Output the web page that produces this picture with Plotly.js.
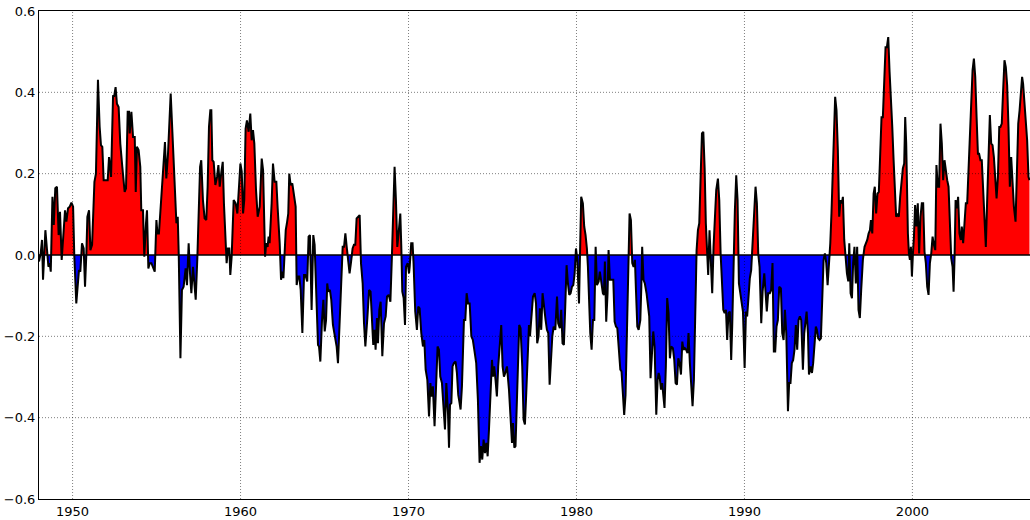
<!DOCTYPE html>
<html>
<head>
<meta charset="utf-8">
<script src="https://cdn.plot.ly/plotly-3.0.1.min.js"></script>
<style>html,body{margin:0;padding:0;background:#fff;}#chart{width:1030px;height:520px;}</style>
</head>
<body>
<div id="chart"></div>
<script>
// Decimal year of each reading
const years = [
1948.00,1948.10,1948.18,1948.24,1948.38,1948.48,1948.56,1948.64,1948.70,1948.80,1948.88,1948.97,1949.07,1949.17,1949.25,1949.35,1949.55,1949.63,1949.73,1949.83,1949.93,
1950.03,1950.10,1950.22,1950.30,1950.38,1950.46,1950.56,1950.66,1950.74,1950.82,1950.88,1950.98,1951.06,1951.16,1951.24,1951.30,1951.39,1951.51,1951.61,1951.69,1951.77,1951.85,
1952.01,1952.09,1952.17,1952.29,1952.41,1952.47,1952.56,1952.64,1952.74,1952.84,1952.96,1953.10,1953.18,1953.28,1953.36,1953.40,1953.50,1953.60,1953.70,1953.76,1953.83,1953.93,
1954.03,1954.09,1954.19,1954.27,1954.37,1954.43,1954.51,1954.59,1954.69,1954.79,1954.89,1954.99,1955.05,1955.14,1955.24,1955.34,
1955.42,1955.50,1955.58,1955.68,1955.84,1955.94,1956.06,1956.18,1956.26,1956.32,1956.42,1956.51,1956.61,1956.73,1956.81,1956.91,1956.99,1957.07,1957.17,1957.25,1957.33,1957.43,
1957.51,1957.59,1957.66,1957.76,1957.86,1957.96,1958.04,1958.12,1958.20,1958.26,1958.32,1958.40,1958.50,1958.60,1958.68,1958.76,1958.86,1958.94,1959.01,1959.11,1959.17,1959.25,
1959.33,1959.39,1959.47,1959.59,1959.71,1959.81,1959.91,1959.99,1960.07,1960.15,1960.22,1960.30,1960.38,1960.48,1960.58,1960.66,1960.74,1960.82,1960.92,1961.02,1961.14,1961.26,
1961.34,1961.46,1961.53,1961.61,1961.67,1961.73,1961.85,1961.93,1962.03,1962.13,1962.21,1962.33,1962.41,1962.49,1962.55,1962.69,1962.76,1962.84,
1962.90,1962.98,1963.08,1963.18,1963.28,1963.34,1963.42,1963.50,1963.58,1963.68,1963.78,1963.86,1963.97,1964.05,1964.13,1964.23,1964.33,1964.41,1964.47,1964.55,1964.61,1964.67,
1964.75,1964.85,1964.93,1965.01,1965.09,1965.16,1965.22,1965.32,1965.40,1965.50,1965.60,1965.72,1965.80,1965.90,1966.00,1966.08,1966.16,1966.24,1966.32,1966.42,1966.49,1966.57,
1966.67,1966.75,1966.83,1966.91,1967.01,1967.09,1967.17,1967.27,1967.35,1967.43,1967.55,1967.65,1967.74,1967.82,1967.90,1967.98,1968.04,1968.12,1968.18,1968.26,1968.34,1968.44,
1968.54,1968.64,1968.72,1968.82,1968.92,1969.01,1969.09,1969.17,1969.25,1969.33,1969.41,1969.51,1969.57,1969.63,1969.71,1969.79,1969.85,1969.95,1970.03,
1970.07,1970.16,1970.24,1970.30,1970.40,1970.50,1970.58,1970.66,1970.76,1970.86,1970.94,1971.02,1971.12,1971.22,1971.30,1971.37,1971.45,1971.55,1971.65,1971.73,1971.81,1971.89,
1971.99,1972.09,1972.17,1972.25,1972.35,1972.41,1972.47,1972.55,1972.62,1972.70,1972.80,1972.88,1972.96,1973.04,1973.10,1973.18,1973.24,1973.30,1973.38,1973.46,1973.54,1973.64,
1973.74,1973.83,1973.93,1974.03,1974.13,1974.23,1974.31,1974.39,1974.47,1974.55,1974.63,1974.71,1974.79,1974.89,1974.97,1975.03,1975.10,1975.18,1975.26,1975.34,1975.42,1975.52,
1975.60,1975.68,1975.76,1975.86,1975.98,1976.08,1976.16,1976.22,1976.30,1976.37,1976.45,1976.53,1976.59,1976.67,1976.77,1976.85,1976.93,1977.01,1977.09,1977.17,1977.23,1977.31,
1977.41,1977.51,
1977.59,1977.66,1977.74,1977.82,1977.90,1977.98,1978.06,1978.16,1978.24,1978.32,1978.40,1978.48,1978.56,1978.64,1978.74,1978.84,1978.91,1979.01,1979.09,1979.17,1979.25,1979.33,
1979.41,1979.49,1979.57,1979.65,1979.73,1979.81,1979.89,1979.97,1980.05,1980.15,1980.20,1980.28,1980.38,1980.46,1980.54,1980.62,1980.68,1980.76,1980.82,1980.90,1980.98,1981.06,
1981.14,1981.22,1981.32,1981.39,1981.47,1981.57,1981.63,1981.69,1981.77,1981.85,1981.91,1981.99,1982.11,1982.19,1982.27,1982.35,1982.43,1982.51,1982.61,1982.68,1982.76,1982.84,
1982.92,1983.00,1983.08,1983.16,1983.24,1983.32,1983.40,1983.48,1983.54,1983.62,1983.70,1983.80,1983.86,1983.91,1983.99,1984.07,1984.17,1984.27,1984.33,1984.41,1984.49,1984.57,
1984.65,1984.75,1984.83,1984.89,
1984.95,1985.03,1985.10,1985.16,1985.24,1985.32,1985.40,1985.48,1985.56,1985.64,1985.74,1985.82,1985.90,1985.98,1986.06,1986.14,1986.22,1986.30,1986.37,1986.45,1986.53,1986.61,
1986.67,1986.75,1986.83,1986.91,1986.99,1987.07,1987.15,1987.23,1987.31,1987.39,1987.47,1987.55,1987.63,1987.70,1987.78,1987.84,1987.92,1988.00,1988.08,1988.16,1988.24,1988.32,
1988.42,1988.50,1988.58,1988.66,1988.74,1988.82,1988.90,1988.97,1989.05,1989.13,1989.21,1989.27,1989.35,1989.43,1989.51,1989.59,1989.67,1989.75,1989.83,1989.91,1990.01,1990.09,
1990.16,1990.24,1990.32,1990.40,1990.48,1990.58,1990.66,1990.74,1990.82,1990.90,1991.00,1991.08,1991.18,1991.26,1991.33,1991.41,1991.51,1991.59,1991.67,1991.75,1991.83,1991.91,
1991.99,1992.07,1992.17,1992.25,1992.33,1992.41,1992.49,
1992.59,1992.66,1992.74,1992.82,1992.90,1992.98,1993.06,1993.14,1993.22,1993.30,1993.38,1993.48,1993.56,1993.64,1993.70,1993.78,1993.84,1993.94,1994.02,1994.09,1994.17,1994.25,
1994.31,1994.39,1994.47,1994.55,1994.63,1994.71,1994.79,1994.87,1994.95,1995.03,1995.11,1995.18,1995.26,1995.34,1995.40,1995.48,1995.56,1995.64,1995.72,1995.80,1995.86,1995.94,
1996.02,1996.10,1996.18,1996.24,1996.32,1996.40,1996.47,1996.55,1996.63,1996.71,1996.79,1996.87,1996.95,1997.05,1997.15,1997.23,1997.31,1997.39,1997.47,1997.53,1997.61,1997.69,
1997.76,1997.84,1997.92,1998.00,1998.08,1998.16,1998.24,1998.32,1998.40,1998.48,1998.56,1998.64,1998.72,1998.80,1998.88,1998.95,1999.03,1999.11,1999.19,1999.27,1999.35,1999.43,
1999.51,1999.57,1999.63,1999.67,1999.73,1999.79,1999.85,1999.91,1999.97,2000.03,2000.09,2000.16,2000.24,2000.32,2000.40,2000.48,2000.56,2000.64,2000.72,2000.80,2000.88,2000.96,
2001.04,2001.12,2001.20,2001.28,2001.36,2001.43,2001.51,2001.59,2001.67,2001.75,2001.83,2001.91,2001.99,2002.07,2002.15,2002.23,2002.31,2002.39,2002.45,2002.51,2002.57,2002.65,
2002.72,2002.80,2002.88,2002.94,2003.02,2003.10,2003.18,2003.26,2003.34,2003.42,2003.50,2003.58,2003.66,2003.74,2003.82,2003.90,2003.97,2004.05,2004.13,2004.21,2004.29,2004.37,
2004.45,2004.53,2004.61,2004.69,2004.77,2004.85,2004.93,2005.01,2005.09,2005.17,2005.24,2005.32,2005.40,2005.48,2005.56,2005.64,2005.72,2005.80,2005.88,2005.96,2006.04,2006.14,
2006.22,2006.30,2006.38,2006.45,2006.53,2006.59,2006.67,2006.75,2006.83,2006.91,2006.97
];
// Index value at each reading
const values = [
-0.016,0.004,0.037,-0.061,0.061,-0.004,-0.029,-0.020,-0.041,0.143,0.074,0.164,0.168,0.049,0.106,-0.012,0.110,0.082,0.115,0.119,0.129,
0.119,0.000,-0.119,-0.078,-0.037,-0.041,0.029,0.016,-0.078,0.004,0.094,0.110,0.012,0.025,0.102,0.180,0.200,0.431,0.315,0.270,0.266,0.184,
0.184,0.184,0.241,0.192,0.393,0.389,0.413,0.372,0.364,0.274,0.217,0.155,0.164,0.352,0.352,0.299,0.352,0.290,0.290,0.155,0.266,0.258,
0.217,0.110,0.110,-0.004,0.078,0.110,-0.033,-0.020,-0.020,-0.029,-0.041,0.086,0.053,0.053,0.119,0.184,
0.209,0.278,0.188,0.249,0.397,0.299,0.168,0.078,0.094,0.000,-0.254,-0.086,-0.078,-0.033,-0.074,0.029,-0.045,-0.094,-0.029,-0.070,-0.110,-0.004,
0.110,0.217,0.233,0.135,0.090,0.086,0.168,0.315,0.356,0.356,0.233,0.229,0.172,0.192,0.221,0.168,0.205,0.229,0.127,0.004,-0.020,0.016,
0.016,-0.049,-0.004,0.135,0.127,0.102,0.168,0.225,0.205,0.102,0.135,0.311,0.331,0.303,0.348,0.282,0.307,0.274,0.160,0.094,0.119,0.237,
0.209,-0.004,0.029,0.020,0.045,0.029,0.127,0.225,0.180,0.180,0.115,0.029,-0.061,-0.041,-0.057,0.061,0.078,0.102,
0.200,0.172,0.176,0.151,0.119,-0.074,-0.053,-0.053,-0.086,-0.192,-0.049,-0.049,-0.065,0.045,0.049,-0.135,0.049,0.025,-0.045,-0.151,-0.221,-0.225,
-0.262,-0.160,-0.110,-0.188,-0.160,-0.070,-0.090,-0.086,-0.110,-0.172,-0.192,-0.225,-0.266,-0.168,-0.061,0.020,0.020,0.053,0.020,-0.029,-0.045,-0.020,
0.016,0.025,0.025,0.090,0.094,0.098,-0.020,-0.070,-0.168,-0.225,-0.155,-0.086,-0.090,-0.151,-0.221,-0.184,-0.233,-0.155,-0.217,-0.135,-0.115,-0.249,
-0.168,-0.151,-0.102,-0.098,-0.115,-0.004,0.102,0.217,0.135,0.020,0.053,0.102,0.020,-0.090,-0.106,-0.172,-0.029,-0.020,-0.045,
-0.029,0.029,0.029,-0.020,-0.139,-0.184,-0.127,-0.131,-0.192,-0.225,-0.209,-0.282,-0.307,-0.397,-0.315,-0.348,-0.323,-0.421,-0.323,-0.225,-0.233,-0.299,
-0.315,-0.380,-0.429,-0.315,-0.389,-0.474,-0.368,-0.364,-0.274,-0.266,-0.262,-0.290,-0.344,-0.364,-0.380,-0.323,-0.258,-0.160,-0.160,-0.094,-0.119,-0.119,
-0.200,-0.209,-0.237,-0.266,-0.356,-0.511,-0.470,-0.503,-0.454,-0.487,-0.462,-0.495,-0.429,-0.331,-0.258,-0.299,-0.274,-0.307,-0.348,-0.274,-0.233,-0.172,
-0.274,-0.299,-0.290,-0.274,-0.331,-0.397,-0.462,-0.413,-0.474,-0.470,-0.356,-0.225,-0.172,-0.180,-0.274,-0.405,-0.417,-0.339,-0.241,-0.172,-0.200,-0.151,
-0.102,-0.094,
-0.119,-0.217,-0.200,-0.131,-0.184,-0.094,-0.131,-0.160,-0.184,-0.192,-0.319,-0.258,-0.200,-0.176,-0.184,-0.102,-0.168,-0.180,-0.135,-0.217,-0.221,-0.127,
-0.025,-0.070,-0.098,-0.094,-0.078,-0.074,-0.045,0.016,-0.012,-0.119,-0.012,0.143,0.127,0.070,0.049,0.016,-0.029,-0.160,-0.192,-0.233,-0.160,-0.160,
0.020,-0.074,-0.065,-0.041,-0.070,-0.094,-0.098,-0.016,-0.164,-0.094,0.012,-0.061,-0.061,-0.061,-0.164,-0.176,-0.180,-0.217,-0.282,-0.286,-0.339,-0.393,
-0.344,-0.192,-0.020,0.102,0.086,-0.020,-0.029,-0.012,-0.086,-0.176,-0.184,-0.160,-0.078,0.020,-0.061,-0.070,-0.094,-0.135,-0.151,-0.303,-0.225,-0.188,
-0.225,-0.393,-0.307,-0.290,
-0.299,-0.331,-0.315,-0.335,-0.376,-0.274,-0.106,-0.143,-0.254,-0.225,-0.229,-0.258,-0.315,-0.319,-0.254,-0.266,-0.294,-0.213,-0.233,-0.229,-0.233,-0.241,
-0.192,-0.266,-0.339,-0.372,-0.307,-0.127,0.012,0.061,0.078,0.192,0.299,0.303,0.213,0.078,0.004,-0.049,0.061,-0.037,-0.094,0.020,0.110,0.160,
0.188,0.135,0.004,-0.070,-0.135,-0.143,-0.135,-0.209,-0.143,-0.139,-0.258,-0.176,-0.004,0.110,0.196,0.135,-0.070,-0.094,-0.127,-0.139,-0.278,-0.139,
-0.151,-0.094,-0.057,-0.037,0.020,0.102,0.168,0.127,0.004,-0.029,-0.168,-0.090,-0.045,-0.094,-0.139,-0.094,-0.094,-0.086,-0.020,-0.237,-0.237,-0.176,
-0.160,-0.078,-0.082,-0.192,-0.209,-0.135,-0.192,
-0.384,-0.315,-0.315,-0.266,-0.258,-0.233,-0.172,-0.233,-0.160,-0.151,-0.160,-0.282,-0.192,-0.168,-0.139,-0.192,-0.294,-0.274,-0.290,-0.266,-0.225,-0.176,
-0.184,-0.205,-0.209,-0.205,-0.110,-0.012,0.004,-0.020,-0.074,-0.029,0.029,0.102,0.233,0.311,0.389,0.356,0.258,0.094,0.135,0.127,0.143,0.037,
-0.012,-0.045,-0.065,0.029,-0.094,-0.106,-0.020,0.020,-0.070,0.020,-0.135,-0.155,-0.086,-0.012,0.020,0.029,0.037,0.053,0.061,0.086,0.053,0.151,
0.168,0.102,0.151,0.155,0.282,0.339,0.339,0.421,0.511,0.511,0.536,0.450,0.397,0.315,0.233,0.168,0.094,0.102,0.094,0.143,0.188,0.213,
0.225,0.339,0.274,0.135,0.053,0.004,-0.012,0.020,-0.053,0.004,0.045,0.123,0.070,0.127,0.004,0.094,0.127,0.127,0.008,-0.020,-0.078,-0.098,
-0.020,0.004,0.045,0.025,0.012,0.221,0.168,0.168,0.323,0.274,0.184,0.233,0.200,0.184,0.168,0.053,-0.008,-0.029,-0.090,-0.004,0.135,0.115,
0.143,0.053,0.037,0.070,0.029,0.078,0.127,0.127,0.200,0.299,0.380,0.454,0.483,0.438,0.339,0.249,0.249,0.233,0.233,0.168,0.094,0.020,
0.135,0.266,0.344,0.274,0.270,0.241,0.192,0.139,0.192,0.315,0.315,0.323,0.405,0.479,0.462,0.417,0.315,0.168,0.241,0.168,0.119,0.082,
0.217,0.323,0.356,0.397,0.438,0.421,0.380,0.331,0.282,0.192,0.184
];
const xTicks = [1950, 1960, 1970, 1980, 1990, 2000];
const xTickLabels = ["1950", "1960", "1970", "1980", "1990", "2000"];
const yTicks = [-0.6, -0.4, -0.2, 0.0, 0.2, 0.4, 0.6];
const yTickLabels = ["\u22120.6", "\u22120.4", "\u22120.2", "0.0", "0.2", "0.4", "0.6"];

// split into positive / negative parts with zero crossings
const px = [], py = [], nx = [], ny = [];
for (let i = 0; i < years.length; i++) {
  if (i > 0) {
    const a = values[i - 1], b = values[i];
    if ((a > 0 && b < 0) || (a < 0 && b > 0)) {
      const xc = years[i - 1] + (years[i] - years[i - 1]) * (-a) / (b - a);
      px.push(xc); py.push(0); nx.push(xc); ny.push(0);
    }
  }
  px.push(years[i]); py.push(Math.max(values[i], 0));
  nx.push(years[i]); ny.push(Math.min(values[i], 0));
}

const traces = [
  {x: px, y: py, type: 'scatter', mode: 'lines', fill: 'tozeroy', fillcolor: '#ff0000',
   line: {width: 0, color: '#ff0000'}, hoverinfo: 'skip', showlegend: false},
  {x: nx, y: ny, type: 'scatter', mode: 'lines', fill: 'tozeroy', fillcolor: '#0000ff',
   line: {width: 0, color: '#0000ff'}, hoverinfo: 'skip', showlegend: false},
  {x: years, y: values, type: 'scatter', mode: 'lines',
   line: {width: 2, color: '#000000'}, showlegend: false}
];

const shapes = [];
xTicks.forEach(v => shapes.push({type: 'line', xref: 'x', yref: 'paper', x0: v, x1: v, y0: 0, y1: 1,
  line: {color: 'rgba(0,0,0,0.5)', width: 1, dash: '1px,2px'}, layer: 'above'}));
yTicks.forEach(v => { if (v !== 0 && Math.abs(v) < 0.59) shapes.push({type: 'line', xref: 'paper', yref: 'y', x0: 0, x1: 1, y0: v, y1: v,
  line: {color: 'rgba(0,0,0,0.5)', width: 1, dash: '1px,2px'}, layer: 'above'}); });
shapes.push({type: 'line', xref: 'paper', yref: 'y', x0: 0, x1: 1, y0: 0, y1: 0,
  line: {color: '#000000', width: 1.5}, layer: 'above'});

const layout = {
  width: 1030, height: 520,
  margin: {l: 39, r: 0, t: 11, b: 21, pad: 0},
  paper_bgcolor: '#ffffff', plot_bgcolor: '#ffffff',
  font: {family: 'DejaVu Sans, sans-serif', size: 13, color: '#000000'},
  xaxis: {range: [1948, 2007], tickvals: xTicks, ticktext: xTickLabels, showgrid: false, zeroline: false,
          showline: true, mirror: true, linecolor: '#000', linewidth: 1, ticks: '',
          tickfont: {size: 13}},
  yaxis: {range: [-0.6, 0.6], tickvals: yTicks, ticktext: yTickLabels, showgrid: false, zeroline: false,
          showline: true, mirror: true, linecolor: '#000', linewidth: 1, ticks: '',
          tickfont: {size: 13}},
  shapes: shapes,
  showlegend: false
};

Plotly.newPlot('chart', traces, layout, {displayModeBar: false, staticPlot: true});
</script>
</body>
</html>
